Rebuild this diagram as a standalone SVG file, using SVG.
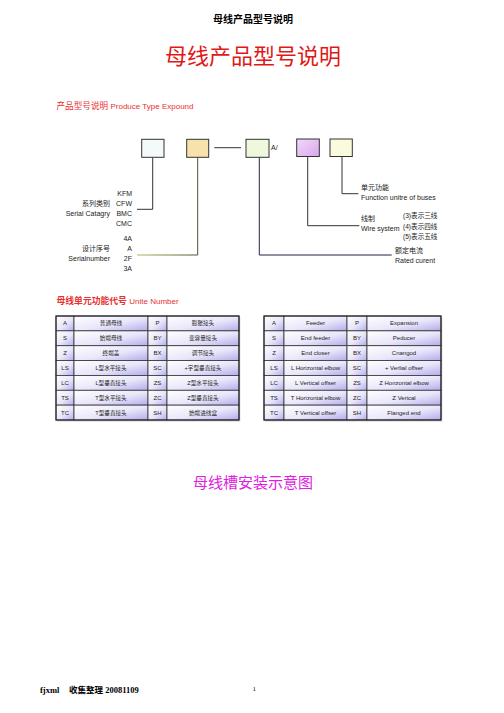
<svg xmlns="http://www.w3.org/2000/svg" width="504" height="713" viewBox="0 0 504 713">
<defs>
<linearGradient id="cell" x1="0" y1="0" x2="1" y2="1">
<stop offset="0" stop-color="#ffffff"/>
<stop offset="0.55" stop-color="#e8e6fa"/>
<stop offset="1" stop-color="#b4acec"/>
</linearGradient>
<linearGradient id="pink" x1="0" y1="0" x2="1" y2="1">
<stop offset="0" stop-color="#f2d8fa"/>
<stop offset="1" stop-color="#d8a8ee"/>
</linearGradient>
<linearGradient id="olive" x1="0" y1="0" x2="1" y2="0">
<stop offset="0" stop-color="#b8b860"/>
<stop offset="1" stop-color="#505030"/>
</linearGradient>
</defs>
<style>
text{font-family:"Liberation Sans","Noto Sans CJK SC",sans-serif;dominant-baseline:central;fill:#222}
.s{font-size:7px}
.t{font-size:6px;text-anchor:middle}
.tc{font-size:5.6px;text-anchor:middle}
.c{fill:url(#cell);stroke:#333;stroke-width:0.8}
.box{stroke:#333;stroke-width:1}
.ln{fill:none;stroke:#333;stroke-width:1}
.r{text-anchor:end}
.red{fill:#e83030}
</style>
<rect width="504" height="713" fill="#fff"/>

<g id="header">
<text x="253" y="19" style="font-size:10px;font-weight:bold;text-anchor:middle;fill:#000">母线产品型号说明</text>
<text x="253" y="56" style="font-size:22px;text-anchor:middle;fill:#e01818">母线产品型号说明</text>
<text x="56.5" y="106" style="font-size:8.6px" class="red">产品型号说明 <tspan style="font-size:8px">Produce Type Expound</tspan></text>
</g>

<g id="connectors">
<polyline class="ln" points="152.7,157.5 152.7,209.3 137,209.3"/>
<polyline points="197.7,157.5 197.7,255 137,255" fill="none" stroke="url(#olive)" stroke-width="1"/>
<line class="ln" x1="214.3" y1="147.7" x2="241" y2="147.7" stroke="#555"/>
<polyline points="259.3,157.5 259.3,255 391.7,255" fill="none" stroke="#23234d" stroke-width="1"/>
<polyline class="ln" points="307.7,156.5 307.7,225.7 359.3,225.7"/>
<polyline class="ln" points="342,156.5 342,193.7 358.3,193.7"/>
</g>

<g id="box-series"><rect class="box" x="141.7" y="139.3" width="22.3" height="18" fill="#f4fafa"/></g>
<g id="box-serial"><rect class="box" x="186.7" y="139.3" width="22" height="18" fill="#f8e2ac"/></g>
<g id="box-current"><rect class="box" x="246" y="139.3" width="23" height="18" fill="#eef8dc"/>
<text class="s" x="271" y="147.7">A/</text></g>
<g id="box-wire"><rect class="box" x="296.7" y="139" width="22.6" height="17.5" fill="url(#pink)"/></g>
<g id="box-function"><rect class="box" x="330" y="139" width="22.3" height="17.5" fill="#fafadc"/></g>

<g id="label-series">
<text class="s r" x="132" y="193.3">KFM</text>
<text class="s r" x="132" y="203.7">CFW</text>
<text class="s r" x="132" y="213.7">BMC</text>
<text class="s r" x="132" y="223.3">CMC</text>
<text class="s r" x="110" y="203.7">系列类别</text>
<text class="s r" x="110" y="213.7">Serial Catagry</text>
</g>
<g id="label-serial">
<text class="s r" x="132" y="238.3">4A</text>
<text class="s r" x="132" y="248.3">A</text>
<text class="s r" x="132" y="258.3">2F</text>
<text class="s r" x="132" y="268.3">3A</text>
<text class="s r" x="110" y="248.3">设计序号</text>
<text class="s r" x="110" y="258.3">Serialnumber</text>
</g>
<g id="label-function">
<text class="s" x="361" y="187">单元功能</text>
<text class="s" x="361" y="197">Function unitre of buses</text>
</g>
<g id="label-wire">
<text class="s" x="361" y="218.3">线制</text>
<text class="s" x="361" y="228.3">Wire system</text>
<text class="s" x="403" y="215" style="font-size:6.6px">(3)表示三线</text>
<text class="s" x="403" y="226" style="font-size:6.6px">(4)表示四线</text>
<text class="s" x="403" y="236.7" style="font-size:6.6px">(5)表示五线</text>
</g>
<g id="label-current">
<text class="s" x="395" y="250">额定电流</text>
<text class="s" x="395" y="260">Rated curent</text>
</g>

<g id="unit-title">
<text x="56.5" y="300.7" class="red" style="font-size:8.8px;font-weight:bold">母线单元功能代号 <tspan style="font-weight:normal;font-size:8px">Unite Number</tspan></text>
</g>

<g id="table-cn">
<rect x="57.5" y="317.5" width="183" height="104.5" fill="#e4e4ec"/>
<g>
<rect class="c" x="56" y="316" width="18" height="14.86"/><rect class="c" x="74" y="316" width="74" height="14.86"/><rect class="c" x="148" y="316" width="19" height="14.86"/><rect class="c" x="167" y="316" width="72" height="14.86"/>
<rect class="c" x="56" y="330.86" width="18" height="14.86"/><rect class="c" x="74" y="330.86" width="74" height="14.86"/><rect class="c" x="148" y="330.86" width="19" height="14.86"/><rect class="c" x="167" y="330.86" width="72" height="14.86"/>
<rect class="c" x="56" y="345.71" width="18" height="14.86"/><rect class="c" x="74" y="345.71" width="74" height="14.86"/><rect class="c" x="148" y="345.71" width="19" height="14.86"/><rect class="c" x="167" y="345.71" width="72" height="14.86"/>
<rect class="c" x="56" y="360.57" width="18" height="14.86"/><rect class="c" x="74" y="360.57" width="74" height="14.86"/><rect class="c" x="148" y="360.57" width="19" height="14.86"/><rect class="c" x="167" y="360.57" width="72" height="14.86"/>
<rect class="c" x="56" y="375.43" width="18" height="14.86"/><rect class="c" x="74" y="375.43" width="74" height="14.86"/><rect class="c" x="148" y="375.43" width="19" height="14.86"/><rect class="c" x="167" y="375.43" width="72" height="14.86"/>
<rect class="c" x="56" y="390.29" width="18" height="14.86"/><rect class="c" x="74" y="390.29" width="74" height="14.86"/><rect class="c" x="148" y="390.29" width="19" height="14.86"/><rect class="c" x="167" y="390.29" width="72" height="14.86"/>
<rect class="c" x="56" y="405.14" width="18" height="14.86"/><rect class="c" x="74" y="405.14" width="74" height="14.86"/><rect class="c" x="148" y="405.14" width="19" height="14.86"/><rect class="c" x="167" y="405.14" width="72" height="14.86"/>
</g>
<rect x="56" y="316" width="183" height="104" fill="none" stroke="#222" stroke-width="1.1"/>
<text class="t" x="65" y="323.4">A</text><text class="tc" x="111" y="323.4">普通母线</text><text class="t" x="157.5" y="323.4">P</text><text class="tc" x="203" y="323.4">膨胀接头</text>
<text class="t" x="65" y="338.3">S</text><text class="tc" x="111" y="338.3">始端母线</text><text class="t" x="157.5" y="338.3">BY</text><text class="tc" x="203" y="338.3">变容量接头</text>
<text class="t" x="65" y="353.1">Z</text><text class="tc" x="111" y="353.1">终端盖</text><text class="t" x="157.5" y="353.1">BX</text><text class="tc" x="203" y="353.1">调节接头</text>
<text class="t" x="65" y="368">LS</text><text class="tc" x="111" y="368">L型水平接头</text><text class="t" x="157.5" y="368">SC</text><text class="tc" x="203" y="368">+字型垂直接头</text>
<text class="t" x="65" y="382.9">LC</text><text class="tc" x="111" y="382.9">L型垂直接头</text><text class="t" x="157.5" y="382.9">ZS</text><text class="tc" x="203" y="382.9">Z型水平接头</text>
<text class="t" x="65" y="397.7">TS</text><text class="tc" x="111" y="397.7">T型水平接头</text><text class="t" x="157.5" y="397.7">ZC</text><text class="tc" x="203" y="397.7">Z型垂直接头</text>
<text class="t" x="65" y="412.6">TC</text><text class="tc" x="111" y="412.6">T型垂直接头</text><text class="t" x="157.5" y="412.6">SH</text><text class="tc" x="203" y="412.6">始端进线盒</text>
</g>

<g id="table-en">
<rect x="265.5" y="317.5" width="177" height="104.5" fill="#e4e4ec"/>
<g>
<rect class="c" x="264" y="316" width="20" height="14.86"/><rect class="c" x="284" y="316" width="63" height="14.86"/><rect class="c" x="347" y="316" width="20" height="14.86"/><rect class="c" x="367" y="316" width="74" height="14.86"/>
<rect class="c" x="264" y="330.86" width="20" height="14.86"/><rect class="c" x="284" y="330.86" width="63" height="14.86"/><rect class="c" x="347" y="330.86" width="20" height="14.86"/><rect class="c" x="367" y="330.86" width="74" height="14.86"/>
<rect class="c" x="264" y="345.71" width="20" height="14.86"/><rect class="c" x="284" y="345.71" width="63" height="14.86"/><rect class="c" x="347" y="345.71" width="20" height="14.86"/><rect class="c" x="367" y="345.71" width="74" height="14.86"/>
<rect class="c" x="264" y="360.57" width="20" height="14.86"/><rect class="c" x="284" y="360.57" width="63" height="14.86"/><rect class="c" x="347" y="360.57" width="20" height="14.86"/><rect class="c" x="367" y="360.57" width="74" height="14.86"/>
<rect class="c" x="264" y="375.43" width="20" height="14.86"/><rect class="c" x="284" y="375.43" width="63" height="14.86"/><rect class="c" x="347" y="375.43" width="20" height="14.86"/><rect class="c" x="367" y="375.43" width="74" height="14.86"/>
<rect class="c" x="264" y="390.29" width="20" height="14.86"/><rect class="c" x="284" y="390.29" width="63" height="14.86"/><rect class="c" x="347" y="390.29" width="20" height="14.86"/><rect class="c" x="367" y="390.29" width="74" height="14.86"/>
<rect class="c" x="264" y="405.14" width="20" height="14.86"/><rect class="c" x="284" y="405.14" width="63" height="14.86"/><rect class="c" x="347" y="405.14" width="20" height="14.86"/><rect class="c" x="367" y="405.14" width="74" height="14.86"/>
</g>
<rect x="264" y="316" width="177" height="104" fill="none" stroke="#222" stroke-width="1.1"/>
<text class="t" x="274" y="323.4">A</text><text class="t" x="315.5" y="323.4">Feeder</text><text class="t" x="357" y="323.4">P</text><text class="t" x="404" y="323.4">Expansion</text>
<text class="t" x="274" y="338.3">S</text><text class="t" x="315.5" y="338.3">End feeder</text><text class="t" x="357" y="338.3">BY</text><text class="t" x="404" y="338.3">Peducer</text>
<text class="t" x="274" y="353.1">Z</text><text class="t" x="315.5" y="353.1">End closer</text><text class="t" x="357" y="353.1">BX</text><text class="t" x="404" y="353.1">Cnangod</text>
<text class="t" x="274" y="368">LS</text><text class="t" x="315.5" y="368">L Horizontal elbow</text><text class="t" x="357" y="368">SC</text><text class="t" x="404" y="368">+ Verlial offser</text>
<text class="t" x="274" y="382.9">LC</text><text class="t" x="315.5" y="382.9">L Vertical offser</text><text class="t" x="357" y="382.9">ZS</text><text class="t" x="404" y="382.9">Z Honzontal elbow</text>
<text class="t" x="274" y="397.7">TS</text><text class="t" x="315.5" y="397.7">T Horizontal elbow</text><text class="t" x="357" y="397.7">ZC</text><text class="t" x="404" y="397.7">Z Verical</text>
<text class="t" x="274" y="412.6">TC</text><text class="t" x="315.5" y="412.6">T Vertical offser</text><text class="t" x="357" y="412.6">SH</text><text class="t" x="404" y="412.6">Flanged end</text>
</g>

<g id="install-title">
<text x="253" y="482.7" style="font-size:15px;text-anchor:middle;fill:#e020e0">母线槽安装示意图</text>
</g>

<g id="footer">
<text x="40" y="690" style="font-family:'Liberation Serif','Noto Sans CJK SC',serif;font-size:8.5px;font-weight:bold;fill:#000">fjxml<tspan x="69">收集整理 20081109</tspan></text>
<text x="252.5" y="689" style="font-family:'Liberation Serif',serif;font-size:7px;fill:#000">1</text>
</g>
</svg>
